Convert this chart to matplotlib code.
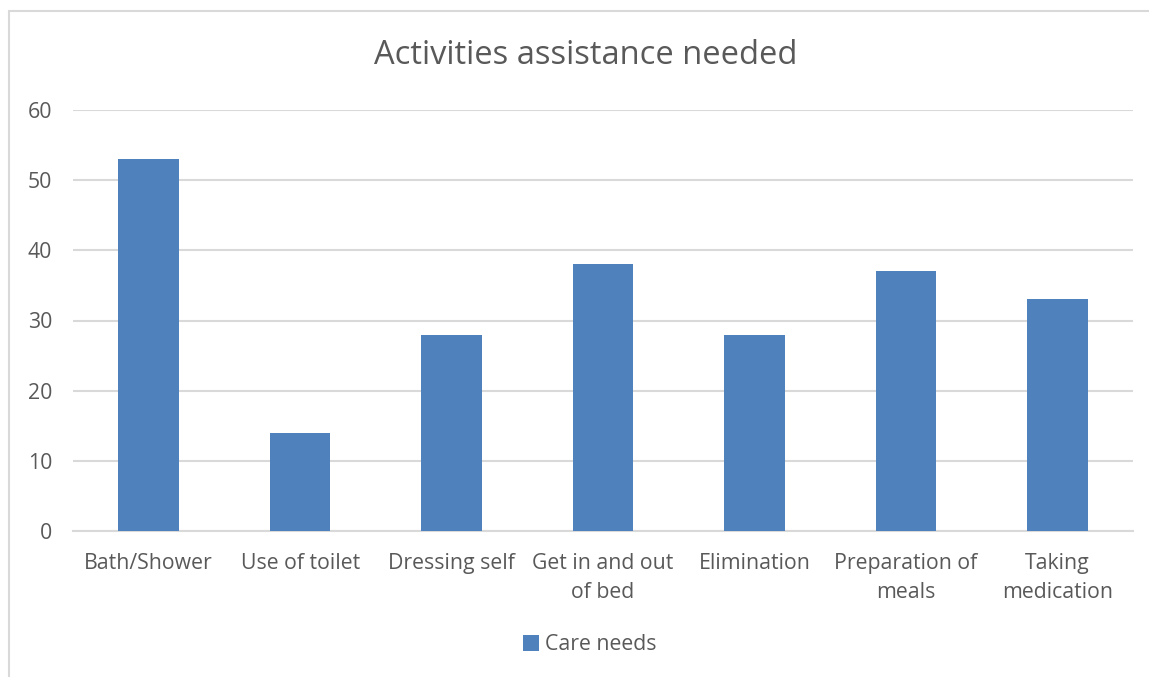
import matplotlib
matplotlib.use("Agg")
import matplotlib.pyplot as plt
from matplotlib.patches import Rectangle

categories = ["Bath/Shower", "Use of toilet", "Dressing self", "Get in and out\nof bed",
              "Elimination", "Preparation of\nmeals", "Taking\nmedication"]
care_needs = [53, 14, 28, 38, 28, 37, 33]
y_ticks = [0, 10, 20, 30, 40, 50, 60]

BAR = "#4f81bd"
TXT = "#595959"
GRID = "#d9d9d9"

plt.rcParams["font.family"] = ["Open Sans", "DejaVu Sans"]

W, H = 1149, 677
fig = plt.figure(figsize=(W / 100, H / 100), dpi=100)

# chart frame (cropped at right and bottom like the reference)
fig.patches.append(Rectangle((9 / W, -0.05), 1.2, 1 - 11 / H + 0.05, transform=fig.transFigure,
                             fill=False, edgecolor=GRID, linewidth=1.5))

ax = fig.add_axes([73 / W, 1 - 531 / H, (1133 - 73) / W, (531 - 110) / H])
x = list(range(len(categories)))
ax.bar(x, care_needs, width=0.4, color=BAR, zorder=3, label="Care needs")
ax.set_xlim(-0.5, len(categories) - 0.5)
ax.set_ylim(0, 60)
ax.set_yticks(y_ticks)
ax.set_xticks(x)
ax.set_xticklabels(categories, linespacing=1.5)
ax.tick_params(axis="both", length=0, labelsize=15.3, colors=TXT)
ax.tick_params(axis="x", pad=15.5)
ax.tick_params(axis="y", pad=15)
ax.grid(axis="y", color=GRID, linewidth=1.5, zorder=0)
for s in ["top", "right", "left"]:
    ax.spines[s].set_visible(False)
ax.spines["bottom"].set_color(GRID)
ax.spines["bottom"].set_linewidth(1.5)

fig.text(586 / W, 1 - 55 / H, "Activities assistance needed", ha="center", va="center",
         fontsize=23.5, color=TXT)

fig.legend(loc="center", bbox_to_anchor=(590 / W, 1 - 645 / H), frameon=False,
           fontsize=15.3, labelcolor=TXT, handlelength=0.75, handleheight=0.75,
           handletextpad=0.3)

fig.savefig("out.png", dpi=100)
